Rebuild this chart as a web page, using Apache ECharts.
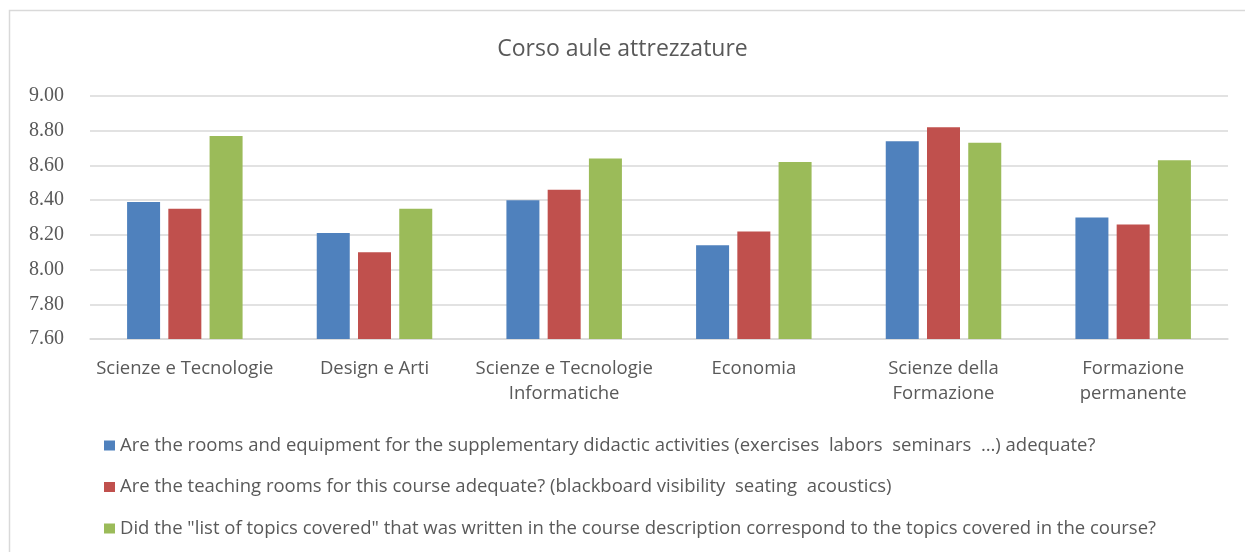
<!DOCTYPE html>
<html>
<head>
<meta charset="utf-8">
<script src="https://cdn.jsdelivr.net/npm/echarts@6/dist/echarts.min.js"></script>
<style>
html, body { margin: 0; padding: 0; background: #fff; }
#main { width: 1245px; height: 552px; }
</style>
</head>
<body>
<div id="main"></div>
<script>
var categories = ['Scienze e Tecnologie', 'Design e Arti', 'Scienze e Tecnologie\nInformatiche', 'Economia', 'Scienze della\nFormazione', 'Formazione\npermanente'];
var seriesNames = [
    'Are the rooms and equipment for the supplementary didactic activities (exercises  labors  seminars  \u2026) adequate?',
    'Are the teaching rooms for this course adequate? (blackboard visibility  seating  acoustics)',
    'Did the "list of topics covered" that was written in the course description correspond to the topics covered in the course?'
];
var roomsEquipment = [8.39, 8.21, 8.40, 8.14, 8.74, 8.30];
var teachingRooms = [8.35, 8.10, 8.46, 8.22, 8.82, 8.26];
var topicsCovered = [8.77, 8.35, 8.64, 8.62, 8.73, 8.63];

(function() {
    var chart = echarts.init(document.getElementById('main'));
    var sans = '"Open Sans", "Liberation Sans", sans-serif';
    var option = {
        animation: false,
        color: ['#4f81bd', '#c0504d', '#9bbb59'],
        title: {
            text: 'Corso aule attrezzature',
            left: 'center',
            top: 33,
            textStyle: { color: '#595959', fontSize: 23, fontWeight: 'normal', fontFamily: sans }
        },
        graphic: [{
            type: 'rect',
            shape: { x: 9.5, y: 10.5, width: 1250, height: 560 },
            style: { fill: 'none', stroke: '#d9d9d9', lineWidth: 1.5 },
            silent: true
        }],
        legend: {
            orient: 'vertical',
            left: 99,
            top: 431,
            itemGap: 22.5,
            itemWidth: 11,
            itemHeight: 10,
            icon: 'rect',
            textStyle: { color: '#595959', fontSize: 18.5, lineHeight: 18, fontFamily: sans },
            data: seriesNames
        },
        grid: { left: 90, right: 17, top: 96, bottom: 213 },
        xAxis: {
            type: 'category',
            data: categories,
            axisLine: { lineStyle: { color: '#d9d9d9', width: 1.5 } },
            axisTick: { show: false },
            axisLabel: { color: '#595959', fontSize: 18.5, fontFamily: sans, margin: 17, lineHeight: 25, interval: 0 }
        },
        yAxis: {
            type: 'value',
            min: 7.6,
            max: 9.0,
            interval: 0.2,
            axisLine: { show: false },
            axisTick: { show: false },
            splitLine: { lineStyle: { color: '#d9d9d9', width: 1.5 } },
            axisLabel: {
                color: '#595959', fontSize: 20, fontFamily: '"Liberation Serif", serif', margin: 26,
                formatter: function(v) { return v.toFixed(2); }
            }
        },
        series: [
            { name: seriesNames[0], type: 'bar', data: roomsEquipment, barWidth: 33, barGap: '25%' },
            { name: seriesNames[1], type: 'bar', data: teachingRooms, barWidth: 33, barGap: '25%' },
            { name: seriesNames[2], type: 'bar', data: topicsCovered, barWidth: 33, barGap: '25%' }
        ]
    };
    chart.setOption(option);
})();
</script>
</body>
</html>
